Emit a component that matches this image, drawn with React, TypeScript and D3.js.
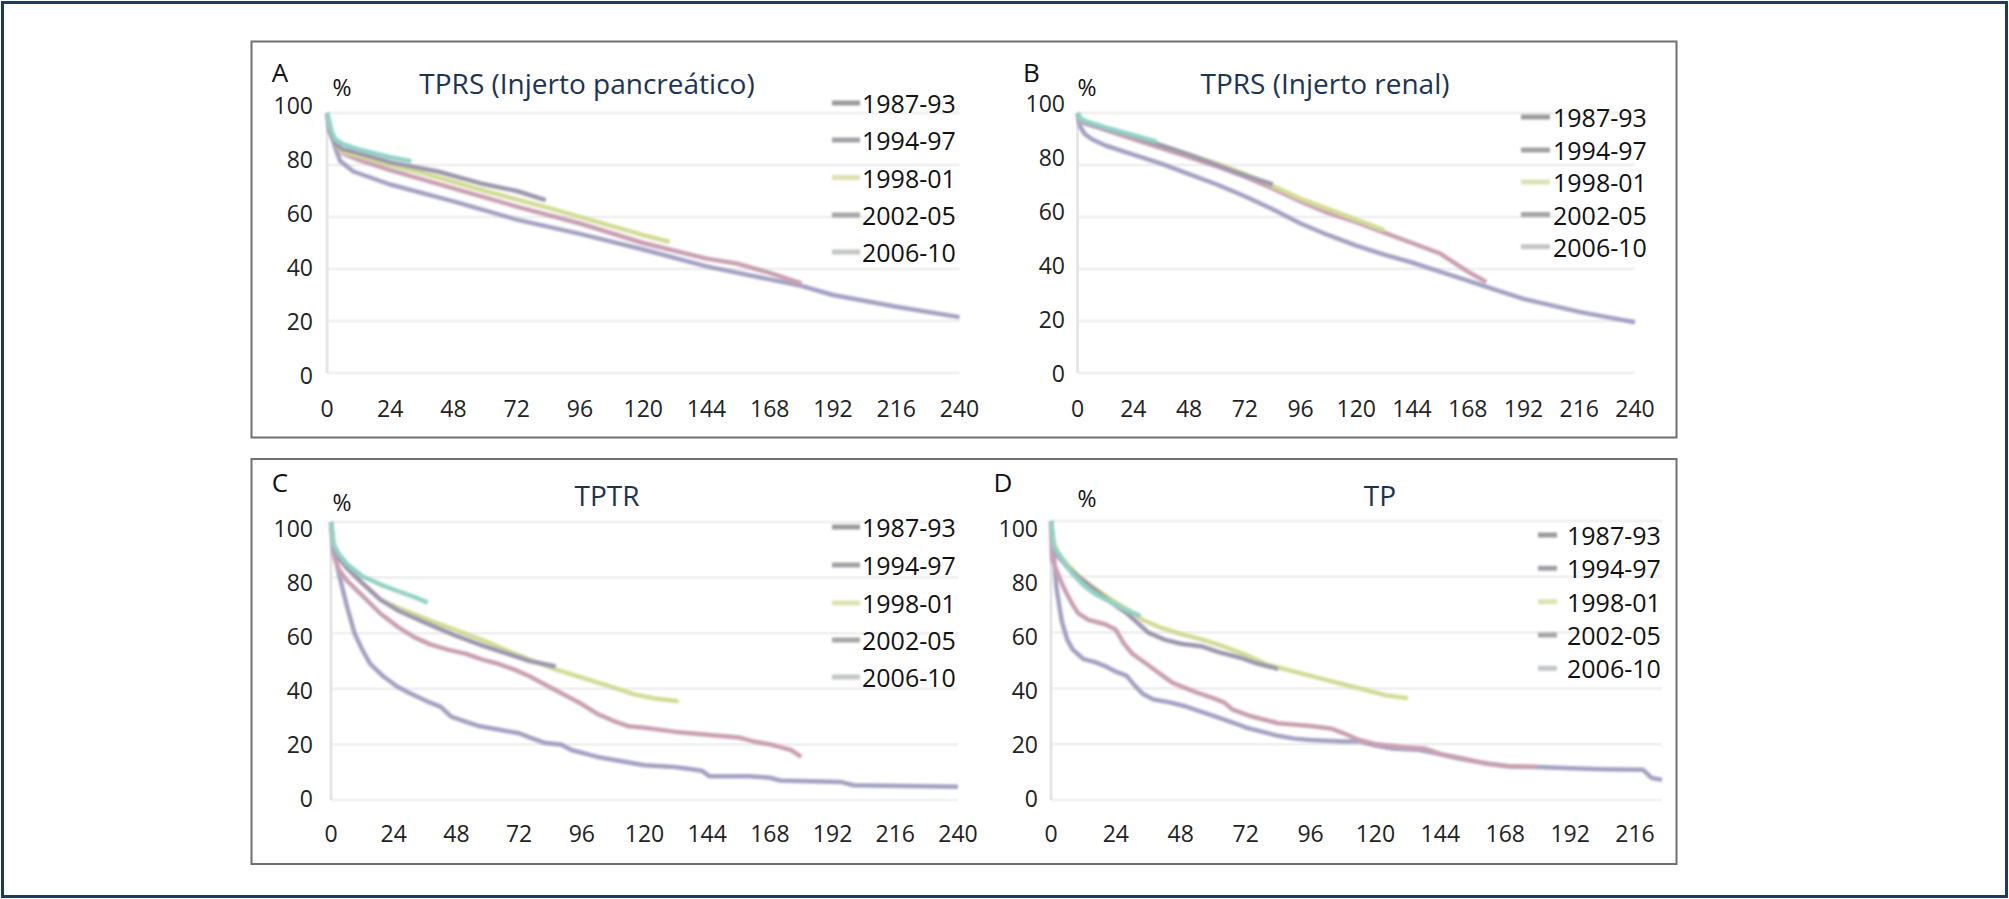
import React from 'react';
import * as d3 from 'd3';

type Pt = [number, number];

const periods = ['1987-93', '1994-97', '1998-01', '2002-05', '2006-10'];
const lineColors = ['#a4a2c2', '#c9a0b2', '#d3dc94', '#9f98ad', '#92d2c6'];
const swatchColors = ['#9a9a9a', '#a0a0a6', '#dde2b0', '#a6a6a6', '#c2c6c6'];
const yTicks = [0, 20, 40, 60, 80, 100];
const xTicks = [0, 24, 48, 72, 96, 120, 144, 168, 192, 216, 240];
const xTicksD = [0, 24, 48, 72, 96, 120, 144, 168, 192, 216];

// A - TPRS (Injerto pancreático)
const a8793: Pt[] = [[0, 100], [1, 96], [3, 87], [5, 81.5], [10, 77.5], [24, 72.5], [48, 66], [72, 59], [96, 53.5], [120, 47.5], [144, 41], [168, 36], [180, 33.5], [192, 30], [216, 25.5], [240, 21.5]];
const a9497: Pt[] = [[0, 100], [1, 93], [3, 88], [6, 84.5], [12, 82], [24, 78], [48, 71], [72, 64], [96, 57.5], [120, 50], [144, 44], [156, 42], [168, 38.5], [180, 34.5]];
const a9801: Pt[] = [[0, 100], [1, 94], [3, 88], [6, 85], [12, 83.5], [24, 80], [36, 77], [60, 70], [84, 63.5], [108, 56.5], [120, 53], [130, 50.5]];
const a0205: Pt[] = [[0, 100], [1, 93], [3, 88], [6, 86], [12, 84.5], [24, 81], [42, 77.5], [58, 73], [72, 70], [83, 66.5]];
const a0610: Pt[] = [[0, 100], [1, 95], [3, 90], [6, 88], [12, 86], [24, 83], [32, 81.5]];

// B - TPRS (Injerto renal)
const b8793: Pt[] = [[0, 100], [1, 95], [3, 92], [6, 90], [12, 87.5], [24, 84], [36, 80.5], [48, 76.5], [60, 72.5], [72, 68], [84, 63], [96, 57.5], [108, 53], [120, 49], [132, 45.5], [144, 42.5], [156, 39], [168, 35.5], [180, 32], [192, 28.5], [204, 26], [216, 23.5], [228, 21.5], [240, 19.5]];
const b9497: Pt[] = [[0, 100], [1, 97.5], [3, 96], [12, 93.5], [24, 90], [36, 86.5], [48, 83], [60, 79.5], [72, 75.5], [84, 71], [96, 66], [108, 61.5], [120, 58], [132, 54], [144, 50], [156, 46], [168, 39], [176, 35]];
const b9801: Pt[] = [[0, 100], [1, 98], [3, 96.5], [12, 94], [24, 91], [36, 87.5], [48, 84], [60, 80.5], [72, 76.5], [84, 72], [96, 67], [108, 63], [120, 59], [132, 55]];
const b0205: Pt[] = [[0, 100], [1, 98], [3, 96.5], [12, 94], [24, 91], [36, 87.5], [48, 84], [60, 80], [72, 76], [84, 72.5]];
const b0610: Pt[] = [[0, 100], [1, 98], [3, 97], [12, 94.5], [24, 91.5], [34, 89]];

// C - TPTR
const c8793: Pt[] = [[0, 100], [1, 90], [3, 81.5], [6, 70], [9, 60], [12, 54], [15, 49], [20, 44.5], [25, 41], [30, 38.5], [38, 35], [42, 33.5], [46, 30], [52, 28], [57, 26.5], [66, 25], [72, 24], [76, 22.5], [82, 20.5], [88, 20], [92, 18], [98, 16.5], [102, 15.5], [108, 14.5], [114, 13.5], [120, 12.5], [130, 12], [136, 11.3], [142, 10.5], [145, 8.5], [160, 8.5], [168, 8], [172, 7], [195, 6.5], [200, 5.3], [240, 4.8]];
const c9497: Pt[] = [[0, 100], [1, 88], [3, 83], [6, 79], [12, 73.5], [19, 67], [26, 62], [32, 58.5], [38, 56], [45, 54], [52, 52.5], [58, 50.5], [64, 49], [70, 47], [76, 44.5], [84, 40.5], [90, 37.5], [96, 34.5], [102, 31], [108, 28.5], [114, 26.5], [120, 26], [132, 24.5], [144, 23.5], [156, 22.5], [162, 21], [168, 20], [172, 19], [176, 18], [180, 15.5]];
const c9801: Pt[] = [[0, 100], [1, 92], [3, 88], [6, 84], [12, 78], [19, 72], [26, 69], [38, 64.5], [48, 61], [58, 57.5], [68, 53.5], [76, 50.5], [86, 47], [96, 44], [108, 40.5], [116, 38], [124, 36.5], [133, 35.5]];
const c0205: Pt[] = [[0, 100], [1, 91], [3, 87], [6, 83.5], [12, 78], [19, 72], [26, 68], [38, 63], [48, 59], [58, 55.5], [68, 52.5], [76, 50], [86, 48]];
const c0610: Pt[] = [[0, 100], [1, 92], [3, 88.5], [6, 85], [12, 80.5], [19, 77.5], [26, 75], [32, 73], [37, 71]];

// D - TP
const d8793: Pt[] = [[0, 100], [1, 88], [2, 76], [4, 64], [6, 57.5], [8, 54], [12, 50.5], [16, 49.5], [20, 48], [24, 46], [28, 44.5], [31, 41], [34, 38], [38, 36], [44, 35], [50, 33.5], [56, 31.5], [62, 29.5], [68, 27.5], [72, 26], [78, 24.5], [84, 23], [90, 22], [96, 21.5], [108, 21], [114, 21], [120, 19.5], [126, 18.5], [136, 18], [142, 16.8], [150, 15], [156, 14], [162, 13], [170, 12], [180, 11.8], [192, 11.4], [204, 11], [219, 10.8], [222, 8], [226, 7.2]];
const d9497: Pt[] = [[0, 100], [0.5, 86], [3, 80], [5, 75.5], [8, 70], [10, 67], [14, 64.5], [20, 63], [24, 61], [27, 56], [30, 52.5], [35, 49], [40, 45.5], [45, 42], [50, 40], [54, 38.5], [60, 36.5], [64, 35], [67, 32.5], [74, 30], [80, 28.5], [84, 27.5], [96, 26.5], [104, 25.5], [108, 24], [114, 21.5], [120, 20], [130, 19], [138, 18.5], [144, 16.5], [152, 15], [160, 13.2], [168, 12.2], [180, 11.8]];
const d9801: Pt[] = [[0, 100], [1, 92], [3, 88], [6, 84.5], [10, 80.5], [16, 76], [22, 72], [28, 68.5], [34, 64.5], [40, 62], [48, 59.5], [56, 57.5], [64, 55], [72, 52], [80, 48.5], [90, 46], [100, 43.5], [108, 41.5], [116, 39.5], [124, 37.5], [132, 36.5]];
const d0205: Pt[] = [[0, 100], [1, 91], [3, 87], [6, 83.5], [10, 80], [16, 75.5], [22, 71], [28, 67], [32, 63.5], [36, 60], [42, 57.5], [48, 56], [56, 55], [62, 53], [70, 51], [76, 49], [84, 47]];
const d0610: Pt[] = [[0, 100], [1, 91], [3, 88], [5, 85], [8, 81], [12, 77], [16, 74], [22, 71], [28, 68], [33, 66]];

interface Panel {
  letter: string;
  title: string;
  series: Pt[][];
  ticks: number[];
  xDomain: [number, number];
  xRange: [number, number];
  gridEnd: number;
  yRange: [number, number];
  yLabRange: [number, number];
  yLabRight: number;
  xLabY: number;
  letterPos: [number, number];
  pctPos: [number, number];
  titleX: number;
  titleY: number;
  swatch: [number, number];
  legendX: number;
  legendY: number[];
}

const panels: Panel[] = [
  {
    letter: 'A', title: 'TPRS (Injerto pancreático)', series: [a8793, a9497, a9801, a0205, a0610], ticks: xTicks,
    xDomain: [0, 240], xRange: [327, 959.5], gridEnd: 240, yRange: [373, 113], yLabRange: [375, 105], yLabRight: 313, xLabY: 408,
    letterPos: [280, 72], pctPos: [342, 87], titleX: 587, titleY: 83, swatch: [832, 860], legendX: 862, legendY: [103, 140, 177.5, 215, 252],
  },
  {
    letter: 'B', title: 'TPRS (Injerto renal)', series: [b8793, b9497, b9801, b0205, b0610], ticks: xTicks,
    xDomain: [0, 240], xRange: [1077.6, 1635], gridEnd: 240, yRange: [373, 113], yLabRange: [373, 103], yLabRight: 1065, xLabY: 408,
    letterPos: [1031.5, 72], pctPos: [1087, 87], titleX: 1325, titleY: 83, swatch: [1521, 1550], legendX: 1553, legendY: [117, 150, 182, 214.5, 246.7],
  },
  {
    letter: 'C', title: 'TPTR', series: [c8793, c9497, c9801, c0205, c0610], ticks: xTicks,
    xDomain: [0, 240], xRange: [331, 958], gridEnd: 240, yRange: [800, 522], yLabRange: [798, 528], yLabRight: 313, xLabY: 833,
    letterPos: [280, 482], pctPos: [342, 502], titleX: 607, titleY: 495, swatch: [832, 860], legendX: 862, legendY: [527, 565, 603, 640, 677],
  },
  {
    letter: 'D', title: 'TP', series: [d8793, d9497, d9801, d0205, d0610], ticks: xTicksD,
    xDomain: [0, 216], xRange: [1051, 1635], gridEnd: 226, yRange: [800, 521], yLabRange: [798, 528], yLabRight: 1038, xLabY: 833,
    letterPos: [1003, 482], pctPos: [1087, 498], titleX: 1380, titleY: 495, swatch: [1538, 1557], legendX: 1567, legendY: [535, 568.3, 601.7, 635, 668.3],
  },
];

const FONT = '"Open Sans", "Noto Sans", sans-serif';

const ChartPanel: React.FC<{ p: Panel }> = ({ p }) => {
  const x = d3.scaleLinear().domain(p.xDomain).range(p.xRange);
  const y = d3.scaleLinear().domain([0, 100]).range(p.yRange);
  const yl = d3.scaleLinear().domain([0, 100]).range(p.yLabRange);
  const line = d3.line<Pt>().x(d => x(d[0])).y(d => y(d[1]));

  return (
    <g>
      {/* faint gridlines */}
      {yTicks.map(v => (
        <line key={'g' + v} x1={x(0)} x2={x(p.gridEnd)} y1={y(v)} y2={y(v)} stroke="#f2f2f2" strokeWidth={3} />
      ))}
      <line x1={x(0)} x2={x(0)} y1={y(0)} y2={y(100)} stroke="#e6e6e6" strokeWidth={3} />

      <g filter="url(#soft)">
        {p.series.map((s, i) => (
          <path key={periods[i]} d={line(s) || ''} fill="none" stroke={lineColors[i]} strokeWidth={4.5} strokeLinejoin="round" />
        ))}
      </g>

      {yTicks.map(v => (
        <text key={'y' + v} x={p.yLabRight} y={yl(v)} textAnchor="end" dominantBaseline="central" fontSize={23} fill="#222">{v}</text>
      ))}
      {p.ticks.map(v => (
        <text key={'x' + v} x={x(v)} y={p.xLabY} textAnchor="middle" dominantBaseline="central" fontSize={23} fill="#222">{v}</text>
      ))}

      <text x={p.letterPos[0]} y={p.letterPos[1]} textAnchor="middle" dominantBaseline="central" fontSize={26} fill="#111">{p.letter}</text>
      <text x={p.pctPos[0]} y={p.pctPos[1]} textAnchor="middle" dominantBaseline="central" fontSize={23} fill="#111">%</text>
      <text x={p.titleX} y={p.titleY} textAnchor="middle" dominantBaseline="central" fontSize={28} fill="#1d3352">{p.title}</text>

      <g filter="url(#soft)">
        {periods.map((name, i) => (
          <line key={'s' + name} x1={p.swatch[0]} x2={p.swatch[1]} y1={p.legendY[i]} y2={p.legendY[i]} stroke={swatchColors[i]} strokeWidth={5} />
        ))}
      </g>
      {periods.map((name, i) => (
        <text key={'l' + name} x={p.legendX} y={p.legendY[i]} dominantBaseline="central" fontSize={25} fill="#111">{name}</text>
      ))}
    </g>
  );
};

const App: React.FC = () => {
  return (
    <svg width={2009} height={899} viewBox="0 0 2009 899" style={{ position: 'absolute', left: 0, top: 0, display: 'block', fontFamily: FONT }}>
      <defs>
        <filter id="soft" filterUnits="userSpaceOnUse" x={0} y={0} width={2009} height={899}>
          <feGaussianBlur stdDeviation={0.9} />
        </filter>
      </defs>
      <rect x={0} y={0} width={2009} height={899} fill="#fff" />
      <rect x={2.5} y={2.5} width={2004} height={894} fill="none" stroke="#1f3a5c" strokeWidth={3} />
      <rect x={251.5} y={41.5} width={1425} height={396} fill="#fff" stroke="#707070" strokeWidth={2} />
      <rect x={251.5} y={459} width={1425} height={405} fill="#fff" stroke="#707070" strokeWidth={2} />
      {panels.map(p => <ChartPanel key={p.letter} p={p} />)}
    </svg>
  );
};

export default App;
